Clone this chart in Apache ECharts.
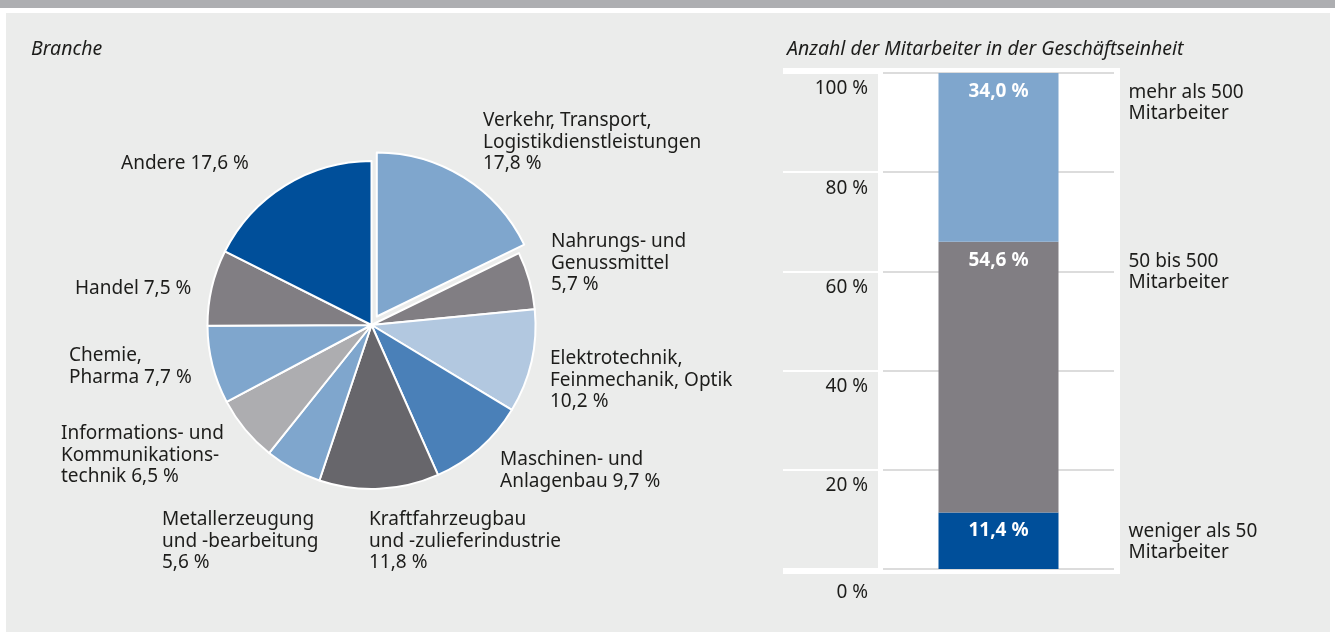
<!DOCTYPE html>
<html>
<head>
<meta charset="UTF-8">
<title>Branche und Mitarbeiter</title>
<script type="text/javascript" src="https://cdn.jsdelivr.net/npm/echarts@6/dist/echarts.min.js"></script>
<style>
  html, body { margin: 0; padding: 0; background: #ffffff; }
</style>
</head>
<body>

<div id="chart" style="width:1335px; height:632px"></div>
<script type="text/javascript">
// Branchen (Kreisdiagramm), Anteil in %
var branchen = ['Verkehr, Transport,\nLogistikdienstleistungen', 'Nahrungs- und\nGenussmittel',
  'Elektrotechnik,\nFeinmechanik, Optik', 'Maschinen- und\nAnlagenbau', 'Kraftfahrzeugbau\nund -zulieferindustrie',
  'Metallerzeugung\nund -bearbeitung', 'Informations- und\nKommunikations-\ntechnik', 'Chemie,\nPharma',
  'Handel', 'Andere'];
var branchenWerte = [17.8, 5.7, 10.2, 9.7, 11.8, 5.6, 6.5, 7.7, 7.5, 17.6];
// Trenner zwischen Name und Wert (neue Zeile oder Leerzeichen)
var branchenTrenner = ['\n', '\n', '\n', ' ', '\n', '\n', ' ', ' ', ' ', ' '];

// Mitarbeiter (gestapelte Säule), Anteil in %
var groessen = ['weniger als 50\nMitarbeiter', '50 bis 500\nMitarbeiter', 'mehr als 500\nMitarbeiter'];
var groessenWerte = [11.4, 54.6, 34.0];

// Farben
var pieFarben = ['#7fa6cd', '#817e83', '#b2c8e0', '#4a80b8', '#67666b', '#7fa6cd', '#adadb0', '#7fa6cd', '#817e83', '#004f9a'];
var barFarben = ['#004f9a', '#817e83', '#7fa6cd'];
// Label-Positionen (links oben) für den Kreis
var labelPos = [[483,110],[551,231],[550,348],[500,449],[369,509],[162,509],[61,423],[69,345],[75,278],[121,153]];

var schrift = 'Noto Sans';
var textFarbe = '#1d1d1b';

function pct(v) {
  return v.toFixed(1).replace('.', ',') + ' %';
}

var myChart = echarts.init(document.getElementById('chart'));

var kreis = {
  type: 'pie',
  center: [371.5, 325],
  radius: 164,
  startAngle: 90,
  clockwise: true,
  silent: true
};

var series = [];
// Kreis: Segmente (erstes Segment herausgezogen)
series.push(Object.assign({}, kreis, {
  selectedMode: 'single',
  selectedOffset: 10,
  itemStyle: { borderColor: '#ffffff', borderWidth: 2 },
  label: { show: false },
  labelLine: { show: false },
  data: branchen.map(function (n, i) {
    return { name: n, value: branchenWerte[i], selected: i === 0, itemStyle: { color: pieFarben[i] } };
  })
}));
// Kreis: Beschriftung
series.push(Object.assign({}, kreis, {
  itemStyle: { color: 'rgba(0,0,0,0)', borderWidth: 0 },
  label: {
    show: true,
    position: 'outside',
    color: textFarbe,
    fontFamily: schrift,
    fontSize: 19,
    lineHeight: 21.5,
    formatter: function (p) {
      return p.name + branchenTrenner[p.dataIndex] + pct(p.value);
    }
  },
  labelLine: { show: false },
  labelLayout: function (p) {
    var pos = labelPos[p.dataIndex];
    return { x: pos[0], y: pos[1], align: 'left', verticalAlign: 'top' };
  },
  data: branchen.map(function (n, i) {
    return { name: n, value: branchenWerte[i] };
  })
}));

// Säule: Werte
groessen.forEach(function (g, i) {
  series.push({
    type: 'bar',
    name: g,
    stack: 'anteil',
    xAxisIndex: 0,
    yAxisIndex: 0,
    barWidth: 120,
    barGap: '-100%',
    silent: true,
    itemStyle: { color: barFarben[i] },
    label: {
      show: true,
      position: 'insideTop',
      distance: 9,
      color: '#ffffff',
      fontFamily: schrift,
      fontWeight: 'bold',
      fontSize: 19,
      formatter: function (p) { return pct(p.value); }
    },
    data: [groessenWerte[i]]
  });
});
// Säule: unsichtbare Kopie für die Beschriftung rechts
groessen.forEach(function (g, i) {
  series.push({
    type: 'bar',
    name: g + ' ',
    stack: 'text',
    xAxisIndex: 0,
    yAxisIndex: 0,
    barWidth: 120,
    barGap: '-100%',
    silent: true,
    itemStyle: { color: 'rgba(0,0,0,0)' },
    label: {
      show: true,
      position: ['100%', 9],
      offset: [70, 0],
      align: 'left',
      verticalAlign: 'top',
      color: textFarbe,
      fontFamily: schrift,
      fontSize: 19,
      lineHeight: 21,
      formatter: function () { return g; }
    },
    data: [groessenWerte[i]]
  });
});

var titelStil = { fontFamily: schrift, fontStyle: 'italic', fontWeight: 'normal', fontSize: 19.5, color: textFarbe };

var option = {
  animation: false,
  backgroundColor: '#ebeceb',
  textStyle: { fontFamily: schrift },
  title: [
    { text: 'Branche', left: 26, top: 34, textStyle: titelStil },
    { text: 'Anzahl der Mitarbeiter in der Geschäftseinheit', left: 782, top: 34, textStyle: titelStil }
  ],
  graphic: [
    { type: 'rect', z: -100, shape: { x: 0, y: 0, width: 1335, height: 8 }, style: { fill: '#adaeb1' } },
    { type: 'rect', z: -100, shape: { x: 0, y: 8, width: 1335, height: 5 }, style: { fill: '#ffffff' } },
    { type: 'rect', z: -100, shape: { x: 0, y: 13, width: 6, height: 619 }, style: { fill: '#ffffff' } },
    { type: 'rect', z: -100, shape: { x: 1330, y: 13, width: 5, height: 619 }, style: { fill: '#ffffff' } },
    { type: 'rect', z: -100, shape: { x: 783, y: 68, width: 337, height: 506 }, style: { fill: '#ffffff' } }
  ],
  grid: [
    { left: 883, right: 221, top: 73, bottom: 63 },
    { left: 783, right: 457, top: 73, bottom: 63 }
  ],
  xAxis: [
    { type: 'category', gridIndex: 0, data: ['Mitarbeiter'], show: false },
    { type: 'value', gridIndex: 1, show: false }
  ],
  yAxis: [
    {
      type: 'value', gridIndex: 0, min: 0, max: 100, interval: 20,
      axisLine: { show: false }, axisTick: { show: false }, axisLabel: { show: false },
      splitLine: { lineStyle: { color: '#dcdcdc', width: 2 } }
    },
    {
      type: 'value', gridIndex: 1, position: 'right', min: 0, max: 100, interval: 20,
      axisLine: { show: false }, axisTick: { show: false },
      splitLine: { show: true, lineStyle: { color: '#ffffff', width: 2 } },
      splitArea: { show: true, areaStyle: { color: ['#ebeceb', '#ebeceb'] } },
      axisLabel: {
        inside: true,
        margin: 10,
        verticalAlign: 'top',
        color: textFarbe,
        fontFamily: schrift,
        fontSize: 19,
        lineHeight: 32,
        formatter: function (v) {
          return v === 0 ? '{zero|0 %}' : v + ' %';
        },
        rich: {
          zero: { fontFamily: schrift, fontSize: 19, color: textFarbe, lineHeight: 47 }
        }
      }
    }
  ],
  series: series
};

myChart.setOption(option);
</script>
</body>
</html>
